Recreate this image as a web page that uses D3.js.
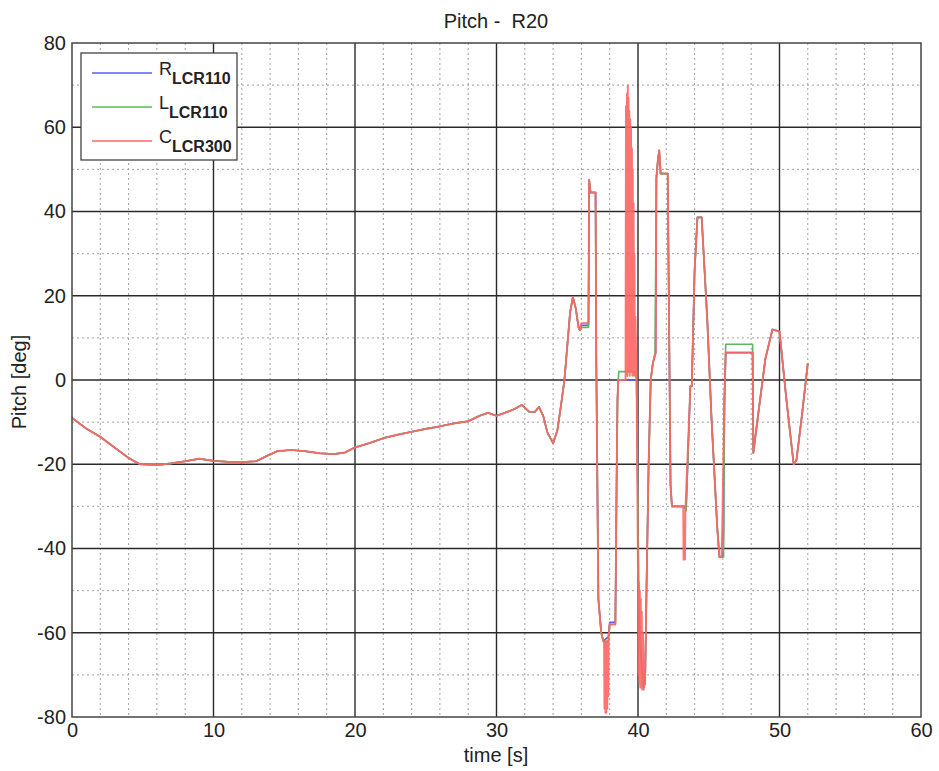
<!DOCTYPE html>
<html><head><meta charset="utf-8">
<script src="https://cdn.jsdelivr.net/npm/d3@7/dist/d3.min.js"></script>
<style>body{margin:0;background:#fff}text{font-family:"Liberation Sans",Arial,sans-serif;fill:#222}</style>
</head><body><svg id="c" width="939" height="771"></svg>
<script>
// ---- data ----
const xTicks = [0, 10, 20, 30, 40, 50, 60];
const yTicks = [-80, -60, -40, -20, 0, 20, 40, 60, 80];
const seriesNames = ["R", "L", "C"];
const seriesSubs = ["LCR110", "LCR110", "LCR300"];
const seriesColors = ["#5c5cf0", "#5cb85c", "#ff6464"];

const timeBase  = [0, 1, 2, 3, 4, 4.8, 6, 7, 8, 9, 10, 11, 12, 13, 13.8, 14.5, 15.5, 16.5, 17.5, 18.5, 19.3, 20, 21, 22, 23, 24, 25, 26, 27, 28, 28.8, 29.4, 30, 30.6, 31.2, 31.8, 32.3, 32.7, 33.0, 33.3, 33.6, 34.0, 34.3, 34.6, 34.8, 35.0, 35.2, 35.4, 35.6, 35.8, 35.9];
const pitchBase = [-9, -11.5, -13.5, -16, -18.5, -20, -20.2, -19.8, -19.3, -18.7, -19.2, -19.4, -19.5, -19.3, -18, -16.9, -16.6, -16.9, -17.4, -17.6, -17.2, -16, -15, -13.8, -13, -12.3, -11.6, -11, -10.3, -9.8, -8.5, -7.8, -8.5, -7.8, -7, -5.9, -7.5, -7.6, -6.4, -8.5, -12.5, -15, -12, -5, 0, 8, 16, 19.7, 17, 12.5, 11.8];

const timeLateR  = [36.0, 36.5, 36.55, 36.65, 37.0, 37.05, 37.2, 37.4, 37.55, 37.9, 38.0, 38.4, 38.5, 38.55, 38.6, 39.9, 40.0, 40.05, 40.2, 40.4, 40.5, 40.6, 40.75, 40.9, 41.05, 41.25, 41.3, 41.4, 41.5, 41.6, 42.1, 42.3, 42.4, 43.3, 43.4, 43.7, 43.8, 44.0, 44.2, 44.5, 44.9, 45.2, 45.6, 45.75, 46.0, 46.05, 46.1, 46.2, 48.1, 48.15, 48.5, 49.0, 49.5, 50.0, 50.5, 51.0, 51.2, 51.6, 52.0];
const pitchLateR = [13, 13, 47.5, 44.5, 44.5, 5, -52, -60, -62, -61, -57.5, -57.5, -20, -5, 0, 0, -30, -55, -65, -73, -72, -50, -20, 0, 4, 6.4, 48, 52, 54.5, 49, 49, -25, -30, -30, -31, -1.5, -1.5, 26, 38.6, 38.6, 14, -9.5, -35, -42, -42, -36, -5, 6.5, 6.5, -17.3, -8, 5, 12, 11.5, -5, -20, -19, -8, 4];

const timeLateL  = [36.0, 36.5, 36.55, 36.65, 37.0, 37.05, 37.2, 37.4, 37.55, 37.9, 38.0, 38.4, 38.5, 38.55, 38.6, 38.65, 39.8, 39.9, 40.0, 40.05, 40.2, 40.4, 40.5, 40.6, 40.75, 40.9, 41.05, 41.2, 41.3, 41.4, 41.5, 41.6, 42.1, 42.3, 42.4, 43.3, 43.4, 43.7, 43.8, 44.0, 44.2, 44.5, 44.9, 45.2, 45.6, 45.75, 46.05, 46.06, 46.15, 46.2, 48.1, 48.15, 48.5, 49.0, 49.5, 50.0, 50.5, 51.0, 51.2, 51.6, 52.0];
const pitchLateL = [12.5, 12.5, 47.5, 44.5, 44.5, 5, -52, -60, -62, -62, -58, -58, -20, -5, 0, 2, 2, 0, -30, -55, -65, -73, -72, -50, -20, 0, 4, 6.4, 48, 52, 54.5, 49, 49, -25, -30, -30, -31, -1.5, -1.5, 26, 38.6, 38.6, 14, -9.5, -35, -42, -42, -27, 0, 8.5, 8.5, -17.3, -8, 5, 12, 11.5, -5, -20, -19, -8, 4];

const timeLateC  = [36.0, 36.5, 36.55, 36.65, 37.0, 37.05, 37.2, 37.4, 37.55, 37.6, 37.63, 37.66, 37.7, 37.73, 37.76, 37.8, 37.83, 37.86, 37.9, 37.93, 38.0, 38.4, 38.5, 38.55, 38.6, 39.12, 39.15, 39.18, 39.22, 39.25, 39.28, 39.3, 39.33, 39.36, 39.39, 39.42, 39.45, 39.48, 39.51, 39.54, 39.57, 39.6, 39.63, 39.66, 39.69, 39.72, 39.75, 39.78, 39.82, 39.9, 40.0, 40.03, 40.06, 40.1, 40.13, 40.16, 40.2, 40.23, 40.27, 40.3, 40.35, 40.4, 40.45, 40.5, 40.6, 40.75, 40.9, 41.05, 41.25, 41.3, 41.4, 41.5, 41.6, 42.1, 42.3, 42.4, 43.2, 43.22, 43.32, 43.35, 43.7, 43.8, 44.0, 44.2, 44.5, 44.9, 45.2, 45.6, 45.75, 45.9, 45.95, 46.1, 46.2, 48.1, 48.15, 48.5, 49.0, 49.5, 50.0, 50.5, 51.0, 51.2, 51.6, 52.0];
const pitchLateC = [13.5, 13.5, 47.5, 44.5, 44.5, 5, -52, -60, -62, -62, -78, -63, -79, -62, -79, -63, -78, -62, -75, -61, -58, -58, -20, -5, 0, 0, 65, 2, 68, 1, 70, 4, 67, 2, 64, 1, 62, 3, 60, 2, 55, 1, 50, 2, 42, 1, 30, 2, 15, 0, -46, -70, -48, -72, -50, -73, -52, -73, -55, -73.5, -60, -73.5, -72, -72, -50, -20, 0, 4, 6.4, 48, 52, 54.5, 49, 49, -25, -30, -30, -42.6, -42.6, -31, -1.5, -1.5, 26, 38.6, 38.6, 14, -9.5, -35, -42, -42, -36, -5, 6.5, 6.5, -17.3, -8, 5, 12, 11.5, -5, -20, -19, -8, 4];

const seriesTimes = [timeBase.concat(timeLateR), timeBase.concat(timeLateL), timeBase.concat(timeLateC)];
const seriesPitch = [pitchBase.concat(pitchLateR), pitchBase.concat(pitchLateL), pitchBase.concat(pitchLateC)];

// ---- drawing ----
const svg = d3.select("#c");
const L = 72, R = 921, T = 43, B = 717;
const x = d3.scaleLinear().domain([0, 60]).range([L, R]);
const y = d3.scaleLinear().domain([-80, 80]).range([B, T]);
const FONT = "Liberation Sans, Arial, sans-serif";

svg.append("rect").attr("width", 939).attr("height", 771).attr("fill", "#fff");

// minor grid
const xMinor = d3.range(2, 60, 2).filter(v => v % 10 !== 0);
const yMinor = d3.range(-70, 80, 20);
const g = svg.append("g");
g.selectAll(".xm").data(xMinor).join("line")
  .attr("x1", d => x(d)).attr("x2", d => x(d)).attr("y1", T).attr("y2", B)
  .attr("stroke", "#a0a0a0").attr("stroke-width", 1).attr("stroke-dasharray", "2,3");
g.selectAll(".ym").data(yMinor).join("line")
  .attr("y1", d => y(d)).attr("y2", d => y(d)).attr("x1", L).attr("x2", R)
  .attr("stroke", "#a0a0a0").attr("stroke-width", 1).attr("stroke-dasharray", "2,3");
// major grid
g.selectAll(".xM").data(xTicks.slice(1, -1)).join("line")
  .attr("x1", d => x(d)).attr("x2", d => x(d)).attr("y1", T).attr("y2", B)
  .attr("stroke", "#2a2a2a").attr("stroke-width", 1.4);
g.selectAll(".yM").data(yTicks.slice(1, -1)).join("line")
  .attr("y1", d => y(d)).attr("y2", d => y(d)).attr("x1", L).attr("x2", R)
  .attr("stroke", "#2a2a2a").attr("stroke-width", 1.4);

// series
const line = d3.line().x(d => x(d[0])).y(d => y(d[1]));
seriesNames.forEach((n, i) => {
  const pts = seriesTimes[i].map((t, k) => [t, seriesPitch[i][k]]);
  svg.append("path").datum(pts).attr("d", line)
    .attr("fill", "none").attr("stroke", seriesColors[i])
    .attr("stroke-width", i === 2 ? 1.9 : 1.6)
    .attr("stroke-opacity", i === 2 ? 0.9 : 1)
    .attr("stroke-linejoin", "round");
});

// frame
svg.append("rect").attr("x", L).attr("y", T).attr("width", R - L).attr("height", B - T)
  .attr("fill", "none").attr("stroke", "#444").attr("stroke-width", 1.5);

// axes labels
const ax = svg.append("g").attr("transform", `translate(0,${B})`)
  .call(d3.axisBottom(x).tickValues(xTicks).tickSize(0).tickPadding(6).tickFormat(d => String(d)));
ax.select(".domain").remove();
ax.selectAll("text").style("font-size", "20px").style("font-family", FONT).attr("fill", "#222");
const ay = svg.append("g").attr("transform", `translate(${L},0)`)
  .call(d3.axisLeft(y).tickValues(yTicks).tickSize(0).tickPadding(6).tickFormat(d => String(d)));
ay.select(".domain").remove();
ay.selectAll("text").style("font-size", "20px").style("font-family", FONT).attr("fill", "#222");

svg.append("text").attr("x", 496).attr("y", 28).attr("text-anchor", "middle")
  .attr("xml:space", "preserve").style("white-space", "pre")
  .style("font-size", "20px").text("Pitch -  R20");
svg.append("text").attr("x", 496).attr("y", 762).attr("text-anchor", "middle")
  .style("font-size", "20px").text("time [s]");
svg.append("text").attr("transform", "translate(26,382) rotate(-90)").attr("text-anchor", "middle")
  .style("font-size", "20px").text("Pitch [deg]");

// legend
const lg = svg.append("g");
lg.append("rect").attr("x", 81).attr("y", 53).attr("width", 156).attr("height", 107)
  .attr("fill", "#fff").attr("stroke", "#444").attr("stroke-width", 1.3);
const legY = [73, 107, 141];
seriesNames.forEach((n, i) => {
  lg.append("line").attr("x1", 92).attr("x2", 152).attr("y1", legY[i]).attr("y2", legY[i])
    .attr("stroke", seriesColors[i]).attr("stroke-width", 1.6);
  const t = lg.append("text").attr("x", 159).attr("y", legY[i] + 2).style("font-size", "18px");
  t.append("tspan").text(n);
  t.append("tspan").attr("dy", 9).style("font-size", "16px").style("font-weight", "bold").text(seriesSubs[i]);
});
</script></body></html>
